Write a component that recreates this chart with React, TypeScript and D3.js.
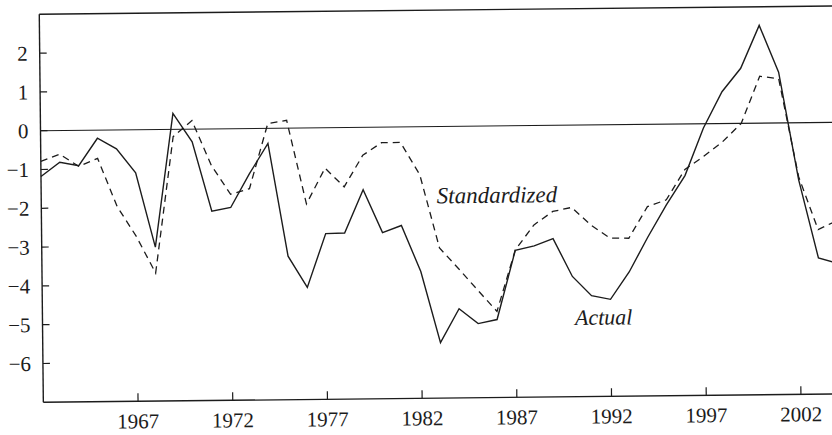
import React from 'react';
import * as d3 from 'd3';

// annual values
const years = [
	1962, 1963, 1964, 1965, 1966, 1967, 1968, 1969, 1970, 1971, 1972, 1973, 1974, 1975, 1976,
	1977, 1978, 1979, 1980, 1981, 1982, 1983, 1984, 1985, 1986, 1987, 1988, 1989, 1990, 1991,
	1992, 1993, 1994, 1995, 1996, 1997, 1998, 1999, 2000, 2001, 2002, 2003, 2004,
];
const actual = [
	-1.18, -0.82, -0.91, -0.21, -0.49, -1.11, -3.03, 0.41, -0.33, -2.12, -2.03, -1.17, -0.39, -3.3, -4.11,
	-2.73, -2.72, -1.61, -2.72, -2.54, -3.73, -5.57, -4.7, -5.09, -4.99, -3.21, -3.1, -2.92, -3.9, -4.4,
	-4.5, -3.8, -2.91, -2.08, -1.33, -0.11, 0.82, 1.42, 2.52, 1.31, -1.47, -3.49, -3.63,
];
const standardized = [
	-0.79, -0.61, -0.93, -0.73, -1.97, -2.75, -3.7, -0.19, 0.22, -0.94, -1.69, -1.55, 0.12, 0.2, -1.96,
	-1.04, -1.53, -0.72, -0.4, -0.4, -1.24, -3.13, -3.67, -4.23, -4.78, -3.2, -2.56, -2.22, -2.12, -2.58,
	-2.92, -2.93, -2.12, -1.95, -1.17, -0.84, -0.47, 0.0, 1.21, 1.14, -1.39, -2.76, -2.53,
];
const yTicks = [2, 1, 0, -1, -2, -3, -4, -5, -6];
const xTicks = [1967, 1972, 1977, 1982, 1987, 1992, 1997, 2002];

const FONT = '"Liberation Serif", "Times New Roman", serif';
const INK = '#1c1c1c';

const fmt = (v: number) => (v < 0 ? '\u2212' + Math.abs(v) : String(v));

const App = () => {
	const xScale = d3.scaleLinear().domain([1962, 2004]).range([40.5, 836]);
	const yScale = d3.scaleLinear().domain([-7, 3]).range([402.3, 14.3]);
	const x0 = xScale(1962);
	const xEnd = 860;

	const line = d3
		.line<number>()
		.x((d, i) => xScale(years[i]))
		.y((d) => yScale(d));

	return (
		<svg
			width={832}
			height={435}
			style={{ position: 'absolute', left: 0, top: 0, background: '#fff' }}
		>
			{/* the scanned page is turned a little, so the whole plot is rotated */}
			<g transform={`rotate(-0.6, ${x0}, ${yScale(0)})`} fontFamily={FONT} fill={INK}>
				{/* frame */}
				<line x1={x0} x2={x0} y1={yScale(3)} y2={yScale(-7)} stroke={INK} strokeWidth={1.4} />
				<line x1={x0} x2={xEnd} y1={yScale(3)} y2={yScale(3)} stroke={INK} strokeWidth={1.4} />
				<line x1={x0} x2={xEnd} y1={yScale(-7)} y2={yScale(-7)} stroke={INK} strokeWidth={1.4} />
				<line x1={x0} x2={xEnd} y1={yScale(0)} y2={yScale(0)} stroke={INK} strokeWidth={1.1} />

				{yTicks.map((t) => (
					<g key={t}>
						<line x1={x0} x2={x0 + 7} y1={yScale(t)} y2={yScale(t)} stroke={INK} strokeWidth={1.2} />
						<text x={x0 - 12} y={yScale(t)} dy="0.35em" textAnchor="end" fontSize={21}>
							{fmt(t)}
						</text>
					</g>
				))}
				{xTicks.map((t) => (
					<g key={t}>
						<line
							x1={xScale(t)}
							x2={xScale(t)}
							y1={yScale(-7)}
							y2={yScale(-7) - 8}
							stroke={INK}
							strokeWidth={1.2}
						/>
						<text x={xScale(t)} y={yScale(-7) + 27} textAnchor="middle" fontSize={21}>
							{t}
						</text>
					</g>
				))}

				<path d={line(standardized) || ''} fill="none" stroke={INK} strokeWidth={1.3} strokeDasharray="7,5" />
				<path d={line(actual) || ''} fill="none" stroke={INK} strokeWidth={1.4} strokeLinejoin="miter" />

				<text x={xScale(1982.88)} y={yScale(-1.98)} fontSize={23} fontStyle="italic">
					Standardized
				</text>
				<text x={xScale(1990.11)} y={yScale(-5.15)} fontSize={22} fontStyle="italic">
					Actual
				</text>
			</g>
		</svg>
	);
};

export default App;
